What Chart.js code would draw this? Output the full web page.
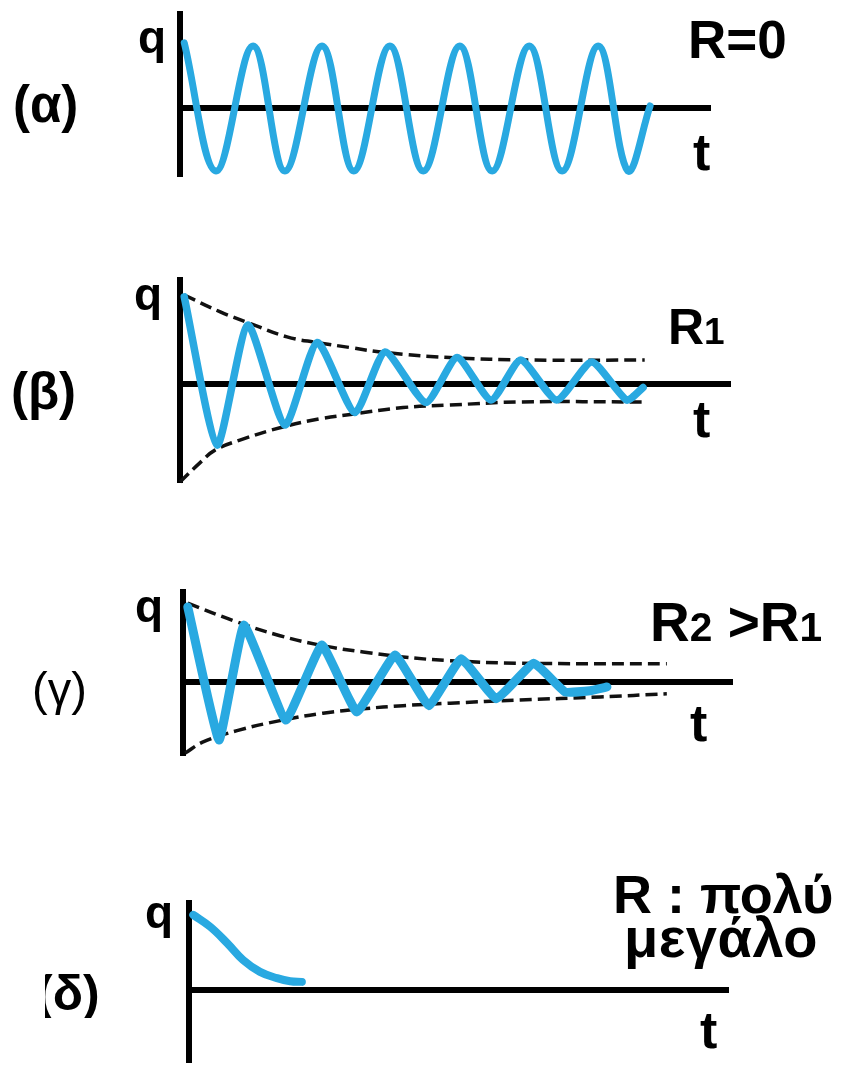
<!DOCTYPE html>
<html>
<head>
<meta charset="utf-8">
<script src="https://cdn.jsdelivr.net/npm/chart.js@4.4.1/dist/chart.umd.min.js"></script>
<style>
  html, body { margin: 0; padding: 0; background: #fff; }
  #page { position: relative; width: 843px; height: 1066px; overflow: hidden; background: #fff; }
  #page canvas { position: absolute; left: 0; }
  .lbl { position: absolute; font-family: "Liberation Sans", Arial, sans-serif; font-weight: bold; color: #000; white-space: nowrap; }
  .sub { font-size: 0.74em; }
</style>
</head>
<body>
<div id="page"></div>
<script>
// ---- (α) R = 0 : undamped oscillation ----
const alphaT = [0.08, 0.68, 1.38, 1.98, 2.68, 3.28, 3.96, 4.59, 5.28, 5.89, 6.59, 7.21, 7.89, 8.45, 8.87];
const alphaQ = [1.05, -1.0, 1.0, -1.0, 1.0, -1.0, 1.0, -1.0, 1.0, -1.0, 1.0, -1.0, 1.0, -1.0, 0.04];

// ---- (β) R1 : damped oscillation and its envelope ----
const betaT = [0.08, 0.70, 1.28, 1.98, 2.59, 3.30, 3.87, 4.64, 5.23, 5.87, 6.43, 7.11, 7.77, 8.43, 8.74];
const betaQ = [1.39, -0.98, 0.94, -0.66, 0.66, -0.46, 0.51, -0.30, 0.42, -0.26, 0.38, -0.26, 0.35, -0.26, -0.06];
const betaUpperT = [0.08, 0.76, 1.28, 2.02, 2.59, 3.21, 3.87, 5.09, 6.60, 8.77];
const betaUpperQ = [1.42, 1.15, 0.98, 0.75, 0.66, 0.58, 0.50, 0.42, 0.38, 0.38];
const betaLowerT = [0.00, 0.38, 0.66, 1.13, 1.94, 2.64, 3.30, 4.21, 5.09, 6.42, 8.77];
const betaLowerQ = [-1.57, -1.26, -1.06, -0.90, -0.69, -0.56, -0.48, -0.38, -0.34, -0.29, -0.29];

// ---- (γ) R2 > R1 : stronger damping ----
const gammaT = [0.09, 0.68, 1.15, 1.94, 2.62, 3.28, 4.00, 4.64, 5.25, 5.91, 6.62, 7.21, 7.68, 8.00];
const gammaQ = [1.20, -0.93, 0.91, -0.61, 0.59, -0.48, 0.43, -0.38, 0.37, -0.27, 0.30, -0.16, -0.14, -0.08];
const gammaUpperT = [0.09, 1.02, 1.83, 2.64, 3.40, 4.15, 5.04, 6.36, 9.13];
const gammaUpperQ = [1.26, 0.96, 0.74, 0.58, 0.48, 0.40, 0.34, 0.30, 0.29];
const gammaLowerT = [0.04, 0.38, 1.02, 1.83, 2.64, 3.40, 4.15, 5.04, 6.36, 7.87, 9.13];
const gammaLowerQ = [-1.14, -0.96, -0.78, -0.62, -0.50, -0.43, -0.38, -0.34, -0.29, -0.24, -0.19];

// ---- (δ) very large R : no oscillation ----
const deltaT = [0.08, 0.40, 0.72, 1.02, 1.34, 1.66, 1.91, 2.13];
const deltaQ = [1.20, 1.01, 0.75, 0.48, 0.29, 0.19, 0.14, 0.13];

// axis ranges of the four panels: [tMax, qMin, qMax]
const alphaRange = [10.00, -1.08, 1.51];
const betaRange  = [10.38, -1.57, 1.66];
const gammaRange = [10.36, -1.17, 1.44];
const deltaRange = [10.17, -1.15, 1.39];

const BLUE = '#29a9e1';
const page = document.getElementById('page');

function pts(T, Q) { return T.map((t, i) => ({ x: t, y: Q[i] })); }

function wave(T, Q, width, tension) {
  return { data: pts(T, Q), borderColor: BLUE, borderWidth: width, tension: tension,
           borderCapStyle: 'round', borderJoinStyle: 'round', pointRadius: 0, clip: false, fill: false };
}
function envelope(T, Q) {
  return { data: pts(T, Q), borderColor: '#111', borderWidth: 3.5, borderDash: [12, 6], tension: 0.4,
           pointRadius: 0, clip: false, fill: false };
}

function axisScale(min, max, extra) {
  return Object.assign({
    type: 'linear', min: min, max: max, z: 1,
    grid: { display: false, drawTicks: false },
    ticks: { display: false },
    border: { display: true, color: '#000', width: 6 }
  }, extra);
}

function panel(box, range, datasets) {
  const pad = 14;
  const cv = document.createElement('canvas');
  const h = box.bottom - box.top + 2 * pad;
  cv.width = 843; cv.height = h;
  cv.style.top = (box.top - pad) + 'px';
  cv.style.width = '843px'; cv.style.height = h + 'px';
  page.appendChild(cv);
  new Chart(cv, {
    type: 'line',
    data: { datasets: datasets },
    options: {
      responsive: false, animation: false, devicePixelRatio: 1,
      layout: { padding: { left: box.left, right: 843 - box.right, top: pad, bottom: pad } },
      plugins: { legend: { display: false }, tooltip: { enabled: false } },
      scales: {
        x: axisScale(0, range[0], { position: { y: 0 } }),
        y: axisScale(range[1], range[2], { position: 'left' })
      }
    }
  });
}

panel({ left: 180, right: 710, top: 14, bottom: 176 }, alphaRange,
      [wave(alphaT, alphaQ, 7, 0.37)]);
panel({ left: 180, right: 730, top: 280, bottom: 482 }, betaRange,
      [wave(betaT, betaQ, 7.5, 0.2), envelope(betaUpperT, betaUpperQ), envelope(betaLowerT, betaLowerQ)]);
panel({ left: 183, right: 732, top: 592, bottom: 755 }, gammaRange,
      [wave(gammaT, gammaQ, 9, 0.1), envelope(gammaUpperT, gammaUpperQ), envelope(gammaLowerT, gammaLowerQ)]);
panel({ left: 189, right: 728, top: 903, bottom: 1062 }, deltaRange,
      [wave(deltaT, deltaQ, 8, 0.4)]);

// text labels, placed by baseline
function label(html, left, baseline, size, style) {
  const d = document.createElement('div');
  d.className = 'lbl';
  d.innerHTML = html;
  d.style.left = left + 'px';
  d.style.fontSize = size + 'px';
  d.style.lineHeight = size + 'px';
  d.style.top = (baseline - 0.8465 * size) + 'px';
  if (style) Object.assign(d.style, style);
  page.appendChild(d);
}

label('(α)', 13, 122, 51);
label('q', 138, 53, 46);
label('R=0', 688, 58, 53);
label('t', 693, 170, 52);

label('(β)', 11, 409, 51);
label('q', 134, 310, 46);
label('R<span class="sub">1</span>', 668, 344, 50);
label('t', 693, 437, 52);

label('(γ)', 32, 705, 47, { fontWeight: 'normal' });
label('q', 135, 622, 46);
label('R<span class="sub">2</span> &gt;R<span class="sub">1</span>', 650, 642, 55);
label('t', 690, 741, 52);

label('(δ)', 36, 1010, 50, { clipPath: 'inset(0 0 0 9px)' });
label('q', 145, 928, 46);
label('R : πολύ', 613, 913, 54);
label('μεγάλο', 624, 957, 56, { letterSpacing: '0.5px' });
label('t', 700, 1048, 52);
</script>
</body>
</html>
